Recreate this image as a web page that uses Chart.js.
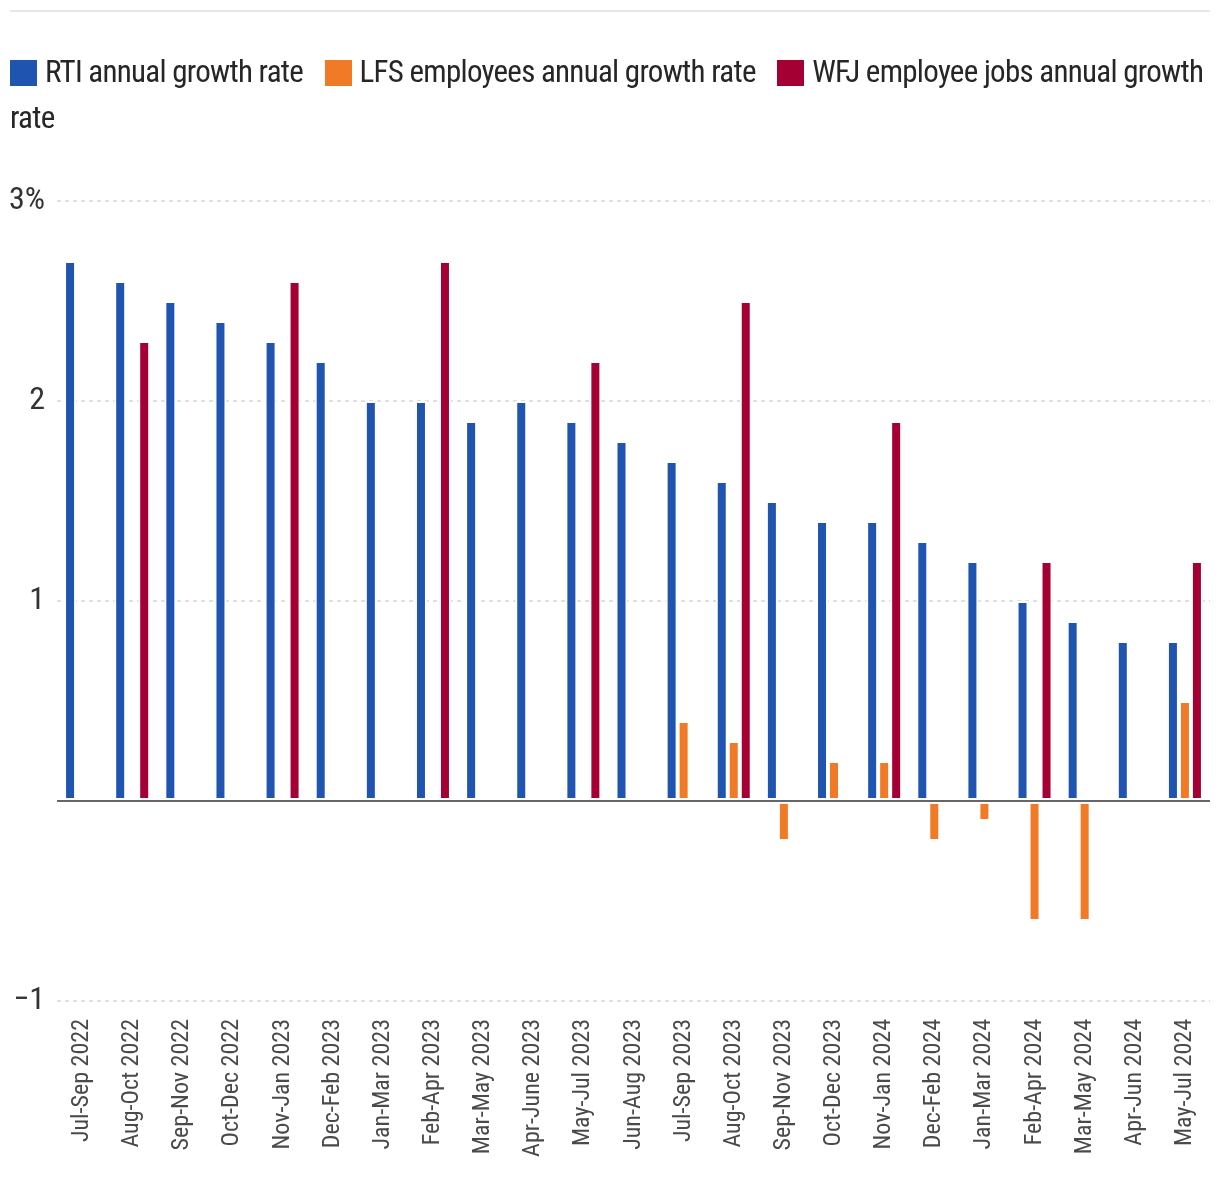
<!DOCTYPE html>
<html>
<head>
<meta charset="utf-8">
<script src="https://cdn.jsdelivr.net/npm/chart.js@4"></script>
<style>
  html, body { margin:0; padding:0; background:#fff; }
  body { width:1220px; height:1204px; position:relative; overflow:hidden; }
  #rule { position:absolute; left:10px; top:10px; width:1200px; height:2px; background:#e6e6e6; }
  #legend { position:absolute; left:10px; top:49px; width:1208px; z-index:2;
    font-family:"Liberation Sans Narrow","Arial Narrow","Roboto Condensed","DejaVu Sans Condensed",sans-serif;
    font-size:31px; line-height:46px; color:#262626; letter-spacing:-0.72px; }
  #legend .item { margin-right:15px; }
  #legend .sw { display:inline-block; width:27px; height:26px; margin-right:8px; vertical-align:-4px; }
  canvas { position:absolute; left:0; top:0; }
</style>
</head>
<body>
<div id="rule"></div>
<div id="legend"></div>
<canvas id="c" width="1220" height="1204"></canvas>
<script>
const categories = ['Jul-Sep 2022','Aug-Oct 2022','Sep-Nov 2022','Oct-Dec 2022','Nov-Jan 2023','Dec-Feb 2023','Jan-Mar 2023','Feb-Apr 2023','Mar-May 2023','Apr-June 2023','May-Jul 2023','Jun-Aug 2023','Jul-Sep 2023','Aug-Oct 2023','Sep-Nov 2023','Oct-Dec 2023','Nov-Jan 2024','Dec-Feb 2024','Jan-Mar 2024','Feb-Apr 2024','Mar-May 2024','Apr-Jun 2024','May-Jul 2024'];
const rtiGrowth = [2.7,2.6,2.5,2.4,2.3,2.2,2.0,2.0,1.9,2.0,1.9,1.8,1.7,1.6,1.5,1.4,1.4,1.3,1.2,1.0,0.9,0.8,0.8];
const lfsGrowth = [null,null,null,null,null,null,null,null,null,null,null,null,0.4,0.3,-0.2,0.2,0.2,-0.2,-0.1,-0.6,-0.6,null,0.5];
const wfjGrowth = [null,2.3,null,null,2.6,null,null,2.7,null,null,2.2,null,null,2.5,null,null,1.9,null,null,1.2,null,null,1.2];
const seriesNames = ['RTI annual growth rate','LFS employees annual growth rate','WFJ employee jobs annual growth rate'];
const seriesColors = ['#1f55b0','#f07a25','#a50034'];
const yTicks = [3,2,1,0,-1];

const FONT = '"Liberation Sans Narrow","Arial Narrow","Roboto Condensed","DejaVu Sans Condensed",sans-serif';

// HTML legend
const leg = document.getElementById('legend');
seriesNames.forEach((n,i)=>{
  const s = document.createElement('span'); s.className='item';
  const sw = document.createElement('span'); sw.className='sw'; sw.style.background=seriesColors[i];
  s.appendChild(sw); s.appendChild(document.createTextNode(n));
  leg.appendChild(s); leg.appendChild(document.createTextNode(' '));
});

const zeroLine = {
  id:'zeroLine',
  afterDatasetsDraw(chart){
    const {ctx, chartArea, scales} = chart;
    const y = scales.y.getPixelForValue(0);
    ctx.save();
    ctx.strokeStyle = '#666666';
    ctx.lineWidth = 2;
    ctx.beginPath();
    ctx.moveTo(chartArea.left, y);
    ctx.lineTo(chartArea.right, y);
    ctx.stroke();
    ctx.restore();
  }
};

const data = [rtiGrowth, lfsGrowth, wfjGrowth];
new Chart(document.getElementById('c'), {
  type:'bar',
  data:{
    labels:categories,
    datasets: data.map((d,i)=>({
      label: seriesNames[i],
      data: d,
      backgroundColor: seriesColors[i],
      borderColor:'#ffffff',
      borderWidth:2,
      borderSkipped:false,
      categoryPercentage:0.718,
      barPercentage:1.0
    }))
  },
  options:{
    responsive:false,
    animation:false,
    devicePixelRatio:1,
    layout:{ padding:{ top:201, left:0, right:10, bottom:0 } },
    plugins:{ legend:{display:false}, tooltip:{enabled:false} },
    scales:{
      x:{
        afterFit(s){ s.height = 203; s.paddingLeft = 0; s.paddingRight = 0; },
        grid:{ display:false, drawTicks:false },
        border:{ display:false },
        ticks:{ minRotation:90, maxRotation:90, autoSkip:false, padding:18,
          color:'#4a4a4a', font:{ family:FONT, size:24 } }
      },
      y:{
        min:-1, max:3,
        afterFit(s){ s.width = 57; },
        afterBuildTicks(s){ s.ticks = yTicks.map(v=>({value:v})); },
        grid:{ drawTicks:false, lineWidth:2,
          color:(c)=> (c.tick && c.tick.value===0) ? 'rgba(0,0,0,0)' : '#e0e0e0' },
        border:{ display:false, dash:[4,4] },
        ticks:{ padding:12, color:'#333333', font:{ family:FONT, size:32 },
          callback:(v)=> v===3 ? '3%' : (v===0 ? '' : (v<0 ? '\u2212'+Math.abs(v) : String(v))) }
      }
    }
  },
  plugins:[zeroLine]
});
</script>
</body>
</html>
